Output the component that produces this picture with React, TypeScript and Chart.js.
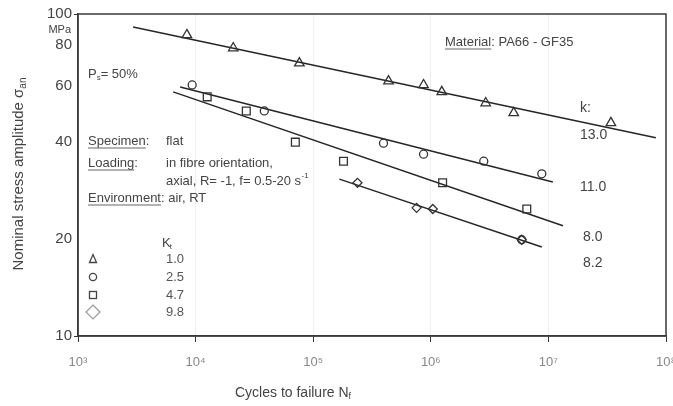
import { useEffect, useRef } from 'react';
import { Chart, registerables } from 'chart.js';

Chart.register(...registerables);

// ---- axis ticks ----
const xTickExponents = [3, 4, 5, 6, 7, 8];
const xTickLabels = ['10³', '10⁴', '10⁵', '10⁶', '10⁷', '10⁸'];
const yTickValues = [10, 20, 40, 60, 80, 100];
const yTickLabels = ['10', '20', '40', '60', '80', '100'];

// ---- legend / annotations ----
const ktValues = ['1.0', '2.5', '4.7', '9.8'];
const kSlopes = ['13.0', '11.0', '8.0', '8.2'];

// ---- data: Kt = 1.0 (triangles) ----
const triCycles = [8430, 20900, 76300, 437000, 868000, 1240000, 2930000, 5070000, 34000000];
const triStress = [86.1, 78.4, 70.4, 61.9, 60.2, 57.3, 52.9, 49.3, 45.9];
const triLineCycles = [2940, 82000000];
const triLineStress = [91.1, 41.3];

// ---- data: Kt = 2.5 (circles) ----
const circCycles = [9350, 38400, 396000, 868000, 2820000, 8790000, 5930000];
const circStress = [60.2, 50.0, 39.7, 36.7, 34.9, 31.9, 19.9];
const circLineCycles = [7390, 10900000];
const circLineStress = [59.3, 30.1];

// ---- data: Kt = 4.7 (squares) ----
const sqCycles = [12550, 26980, 70500, 181000, 1260000, 6550000];
const sqStress = [55.3, 50.0, 40.0, 34.9, 29.9, 24.8];
const sqLineCycles = [6450, 13300000];
const sqLineStress = [57.3, 22.0];

// ---- data: Kt = 9.8 (diamonds) ----
const diaCycles = [238000, 757000, 1040000, 5930000];
const diaStress = [29.9, 25.0, 24.8, 19.9];
const diaLineCycles = [167000, 8790000];
const diaLineStress = [30.7, 18.9];

const FONT = '"Liberation Sans", Arial, Helvetica, sans-serif';
const TXT = '#444';

const pts = (xs: number[], ys: number[]) => xs.map((x, i) => ({ x, y: ys[i] }));

const lineDs = (xs: number[], ys: number[]) => ({
  data: pts(xs, ys),
  showLine: true,
  borderColor: '#262626',
  borderWidth: 1.5,
  pointRadius: 0,
  fill: false,
});

const pointDs = (xs: number[], ys: number[], style: string, radius: number) => ({
  data: pts(xs, ys),
  showLine: false,
  pointStyle: style,
  pointRadius: radius,
  pointBorderColor: '#333',
  pointBackgroundColor: 'rgba(0,0,0,0)',
  pointBorderWidth: 1.3,
});

function txt(ctx: CanvasRenderingContext2D, s: string, x: number, y: number, size: number, color = TXT, align: CanvasTextAlign = 'left') {
  ctx.font = `${size}px ${FONT}`;
  ctx.fillStyle = color;
  ctx.textAlign = align;
  ctx.textBaseline = 'middle';
  ctx.fillText(s, x, y);
  return ctx.measureText(s).width;
}

function underlined(ctx: CanvasRenderingContext2D, s: string, x: number, y: number, size: number) {
  const w = txt(ctx, s, x, y, size);
  ctx.strokeStyle = '#666';
  ctx.lineWidth = 1;
  ctx.beginPath();
  ctx.moveTo(x, y + size * 0.5 + 0.5);
  ctx.lineTo(x + w, y + size * 0.5 + 0.5);
  ctx.stroke();
  return w;
}

const annotationPlugin = {
  id: 'annotations',
  afterDraw(chart: any) {
    const ctx: CanvasRenderingContext2D = chart.ctx;
    const a = chart.chartArea;
    ctx.save();
    // frame
    ctx.strokeStyle = '#3a3a3a';
    ctx.lineWidth = 1.5;
    ctx.strokeRect(a.left, a.top, a.right - a.left, a.bottom - a.top);

    // MPa unit
    txt(ctx, 'MPa', 71, 30, 11, TXT, 'right');

    // Material
    let w = underlined(ctx, 'Material', 445, 42, 13);
    txt(ctx, ': PA66 - GF35', 445 + w, 42, 13);

    // Ps = 50%
    w = txt(ctx, 'P', 88, 74, 13);
    const w2 = txt(ctx, 's', 88 + w, 78, 8);
    txt(ctx, '= 50%', 88 + w + w2, 74, 13);

    // Specimen / Loading / Environment
    w = underlined(ctx, 'Specimen', 88, 141, 13);
    txt(ctx, ':', 88 + w, 141, 13);
    txt(ctx, 'flat', 166, 141, 13);

    w = underlined(ctx, 'Loading', 88, 163, 13);
    txt(ctx, ':', 88 + w, 163, 13);
    txt(ctx, 'in fibre orientation,', 166, 163, 13);
    w = txt(ctx, 'axial, R= -1, f= 0.5-20 s', 166, 181, 13);
    txt(ctx, '-1', 166 + w + 0.5, 176, 8);

    w = underlined(ctx, 'Environment', 88, 198, 13);
    txt(ctx, ': air, RT', 88 + w, 198, 13);

    // Kt legend
    w = txt(ctx, 'K', 162, 243, 13);
    txt(ctx, 't', 162 + w - 1, 247, 8);
    const ys = [259, 277, 295, 312];
    ktValues.forEach((v, i) => txt(ctx, v, 166, ys[i], 13, '#555'));

    ctx.strokeStyle = '#444';
    ctx.lineWidth = 1.3;
    const cx = 93;
    // triangle
    ctx.beginPath();
    ctx.moveTo(cx, ys[0] - 4.5);
    ctx.lineTo(cx + 3.5, ys[0] + 3.5);
    ctx.lineTo(cx - 3.5, ys[0] + 3.5);
    ctx.closePath();
    ctx.stroke();
    // circle
    ctx.beginPath();
    ctx.arc(cx, ys[1], 3.6, 0, Math.PI * 2);
    ctx.stroke();
    // square
    ctx.strokeRect(cx - 3.5, ys[2] - 3.5, 7, 7);
    // diamond
    ctx.strokeStyle = '#999';
    ctx.lineWidth = 1.2;
    ctx.beginPath();
    ctx.moveTo(cx, ys[3] - 7);
    ctx.lineTo(cx + 7, ys[3]);
    ctx.lineTo(cx, ys[3] + 7);
    ctx.lineTo(cx - 7, ys[3]);
    ctx.closePath();
    ctx.stroke();

    // k slopes
    txt(ctx, 'k:', 580, 108, 14);
    txt(ctx, kSlopes[0], 580, 135, 14);
    txt(ctx, kSlopes[1], 580, 187, 14);
    txt(ctx, kSlopes[2], 583, 237, 14);
    txt(ctx, kSlopes[3], 583, 263, 14);

    // x axis title
    w = txt(ctx, 'Cycles to failure N', 235, 393, 14);
    txt(ctx, 'f', 235 + w, 397, 9);

    // y axis title
    ctx.save();
    ctx.translate(19, 174);
    ctx.rotate(-Math.PI / 2);
    ctx.font = `15px ${FONT}`;
    const main = 'Nominal stress amplitude σ';
    const mw = ctx.measureText(main).width;
    ctx.font = `10px ${FONT}`;
    const sw = ctx.measureText('an').width;
    const start = -(mw + sw) / 2;
    txt(ctx, main, start, 0, 15);
    txt(ctx, 'an', start + mw, 4, 10);
    ctx.restore();

    ctx.restore();
  },
};

export default function App() {
  const ref = useRef<HTMLCanvasElement>(null);
  useEffect(() => {
    if (!ref.current) return;
    const chart = new Chart(ref.current, {
      type: 'scatter',
      data: {
        datasets: [
          pointDs(triCycles, triStress, 'triangle', 5.5),
          pointDs(circCycles, circStress, 'circle', 4),
          pointDs(sqCycles, sqStress, 'rect', 5.5),
          pointDs(diaCycles, diaStress, 'rectRot', 4.5),
          lineDs(triLineCycles, triLineStress),
          lineDs(circLineCycles, circLineStress),
          lineDs(sqLineCycles, sqLineStress),
          lineDs(diaLineCycles, diaLineStress),
        ] as any,
      },
      options: {
        animation: false,
        responsive: false,
        devicePixelRatio: 1,
        layout: { padding: { top: 14, right: 7, left: 0, bottom: 0 } },
        plugins: {
          legend: { display: false },
          tooltip: { enabled: false },
          title: { display: false },
        },
        scales: {
          x: {
            type: 'logarithmic',
            min: 1e3,
            max: 1e8,
            afterBuildTicks: (s: any) => {
              s.ticks = xTickExponents.map((e) => ({ value: Math.pow(10, e) }));
            },
            afterFit: (s: any) => {
              s.height = 70;
              s.paddingLeft = 0;
              s.paddingRight = 0;
            },
            ticks: {
              callback: (v: any) => {
                const e = Math.round(Math.log10(Number(v)));
                const i = xTickExponents.indexOf(e);
                return i >= 0 ? xTickLabels[i] : '';
              },
              font: { size: 13, family: FONT },
              color: '#888',
              padding: 13,
              maxRotation: 0,
              autoSkip: false,
            },
            grid: { color: '#efefef', tickColor: '#333', tickLength: 6, lineWidth: 1 },
            border: { display: true, color: '#3a3a3a', width: 1.5 },
          },
          y: {
            type: 'logarithmic',
            min: 10,
            max: 100,
            afterBuildTicks: (s: any) => {
              s.ticks = yTickValues.map((v) => ({ value: v }));
            },
            afterFit: (s: any) => {
              s.width = 78;
              s.paddingTop = 0;
              s.paddingBottom = 0;
            },
            ticks: {
              callback: (v: any) => {
                const i = yTickValues.indexOf(Math.round(Number(v)));
                return i >= 0 ? yTickLabels[i] : '';
              },
              font: { size: 15, family: FONT },
              color: TXT,
              padding: 2,
              autoSkip: false,
            },
            grid: {
              drawOnChartArea: false,
              tickLength: 4,
              tickColor: (c: any) =>
                c.tick && (c.tick.value === 10 || c.tick.value === 100) ? '#333' : 'rgba(0,0,0,0)',
            },
            border: { display: true, color: '#3a3a3a', width: 1.5 },
          },
        },
      } as any,
      plugins: [annotationPlugin],
    });
    return () => chart.destroy();
  }, []);

  return (
    <div style={{ position: 'absolute', left: 0, top: 0, width: 673, height: 406, background: '#fff' }}>
      <canvas ref={ref} width={673} height={406} />
    </div>
  );
}
